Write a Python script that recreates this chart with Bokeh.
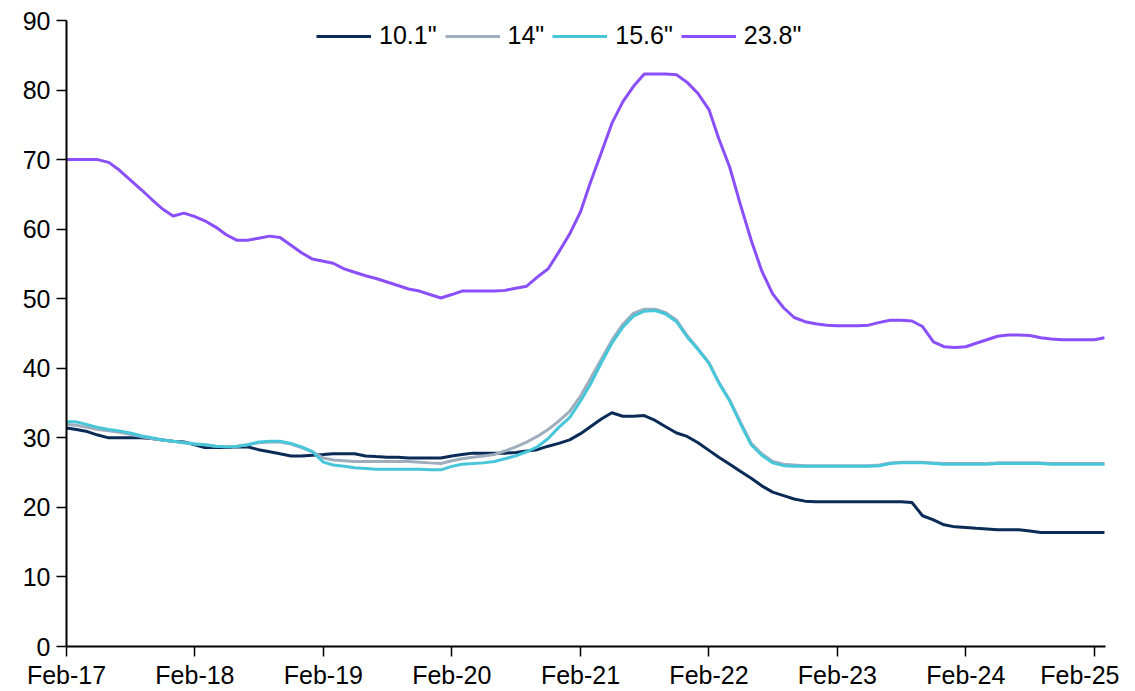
import pandas as pd
from datetime import datetime
from bokeh.plotting import figure
from bokeh.models import FixedTicker, DatetimeTickFormatter, Range1d, Legend, LegendItem
from bokeh.embed import file_html
from bokeh.resources import INLINE

dates = pd.date_range("2017-02-01", periods=98, freq="MS")
tick_dates = [datetime(y, 2, 1) for y in range(2017, 2026)]
y_ticks = [0, 10, 20, 30, 40, 50, 60, 70, 80, 90]

s_10_1 = [31.4,31.2,30.9,30.4,30.0,30.0,30.0,30.0,29.9,29.7,29.5,29.4,
          29.0,28.6,28.6,28.6,28.7,28.7,28.3,28.0,27.7,27.4,27.4,27.5,
          27.6,27.7,27.7,27.7,27.4,27.3,27.2,27.2,27.1,27.1,27.1,27.1,
          27.4,27.6,27.8,27.8,27.8,27.8,27.9,28.1,28.3,28.8,29.2,29.7,
          30.6,31.6,32.7,33.6,33.1,33.1,33.2,32.5,31.6,30.7,30.2,29.3,
          28.2,27.2,26.2,25.2,24.2,23.1,22.2,21.7,21.2,20.9,20.8,20.8,
          20.8,20.8,20.8,20.8,20.8,20.8,20.8,20.7,18.8,18.2,17.5,17.2,
          17.1,17.0,16.9,16.8,16.8,16.8,16.6,16.4,16.4,16.4,16.4,16.4,
          16.4,16.4]

s_14 = [31.9,31.8,31.5,31.2,31.0,30.8,30.5,30.2,29.9,29.7,29.5,29.3,
        29.1,29.0,28.8,28.7,28.8,29.0,29.3,29.4,29.4,29.1,28.6,28.0,
        27.1,26.8,26.7,26.6,26.6,26.6,26.6,26.6,26.6,26.5,26.4,26.3,
        26.7,27.0,27.2,27.4,27.6,28.1,28.7,29.4,30.2,31.2,32.4,33.8,
        36.0,38.5,41.3,44.0,46.3,47.9,48.5,48.5,48.0,46.9,44.7,42.8,
        40.8,38.0,35.4,32.3,29.2,27.7,26.6,26.2,26.1,26.0,26.0,26.0,
        26.0,26.0,26.0,26.0,26.1,26.4,26.5,26.5,26.5,26.4,26.3,26.3,
        26.3,26.3,26.3,26.4,26.4,26.4,26.4,26.4,26.3,26.3,26.3,26.3,
        26.3,26.3]

s_15_6 = [32.3,32.3,31.9,31.5,31.2,31.0,30.7,30.3,30.0,29.7,29.5,29.3,
          29.1,29.0,28.8,28.7,28.8,29.0,29.4,29.5,29.5,29.2,28.7,28.0,
          26.5,26.1,25.9,25.7,25.6,25.5,25.5,25.5,25.5,25.5,25.4,25.4,
          25.9,26.2,26.3,26.4,26.6,27.0,27.4,28.0,28.7,29.9,31.5,32.9,
          35.3,37.7,40.8,43.6,45.9,47.5,48.2,48.3,47.8,46.7,44.5,42.7,
          40.7,37.9,35.3,32.1,29.0,27.5,26.4,26.0,25.9,25.9,25.9,25.9,
          25.9,25.9,25.9,25.9,26.0,26.3,26.4,26.4,26.4,26.3,26.2,26.2,
          26.2,26.2,26.2,26.3,26.3,26.3,26.3,26.3,26.2,26.2,26.2,26.2,
          26.2,26.2]

s_23_8 = [70.0,70.0,70.0,70.0,69.6,68.5,67.1,65.7,64.3,62.9,61.9,62.3,
          61.8,61.2,60.3,59.2,58.4,58.4,58.7,59.0,58.8,57.7,56.6,55.7,
          55.4,55.1,54.3,53.8,53.3,52.9,52.4,51.9,51.4,51.1,50.6,50.1,
          50.6,51.1,51.1,51.1,51.1,51.2,51.5,51.8,53.1,54.3,56.7,59.3,
          62.5,66.7,71.0,75.2,78.3,80.5,82.3,82.3,82.3,82.2,81.1,79.5,
          77.2,73.0,68.9,63.6,58.4,54.0,50.7,48.7,47.3,46.7,46.4,46.2,
          46.1,46.1,46.1,46.2,46.6,46.9,46.9,46.8,46.0,43.8,43.1,43.0,
          43.1,43.6,44.1,44.6,44.8,44.8,44.7,44.4,44.2,44.1,44.1,44.1,
          44.1,44.4]

series_names = ['10.1"', '14"', '15.6"', '23.8"']
series_values = [s_10_1, s_14, s_15_6, s_23_8]
series_colors = ["#0B2B57", "#9FADBD", "#47C6DA", "#8A4FFA"]

FONT = "Liberation Sans"

p = figure(width=1119, height=691, x_axis_type="datetime",
           output_backend="svg", toolbar_location=None,
           min_border_left=66, min_border_right=14, min_border_top=20, min_border_bottom=44)
p.x_range = Range1d(datetime(2017, 2, 1), datetime(2025, 3, 4))
p.y_range = Range1d(0, 90)

items = []
for name, vals, col in zip(series_names, series_values, series_colors):
    r = p.line(dates, vals, line_color=col, line_width=3)
    items.append(LegendItem(label=name, renderers=[r]))

p.xgrid.grid_line_color = None
p.ygrid.grid_line_color = None
p.outline_line_color = None
p.background_fill_color = "white"
p.border_fill_color = "white"

p.xaxis.ticker = FixedTicker(ticks=[pd.Timestamp(d).timestamp() * 1000 for d in tick_dates])
p.xaxis.formatter = DatetimeTickFormatter(days="%b-%y", months="%b-%y", years="%b-%y")
p.yaxis.ticker = FixedTicker(ticks=y_ticks)

for ax in (p.xaxis[0], p.yaxis[0]):
    ax.axis_line_color = "black"
    ax.axis_line_width = 2
    ax.major_tick_line_color = "black"
    ax.major_tick_line_width = 1.5
    ax.major_tick_in = 0
    ax.major_tick_out = 10
    ax.minor_tick_line_color = None
    ax.major_label_text_font = FONT
    ax.major_label_text_font_size = "25px"
    ax.major_label_text_color = "black"
p.xaxis.major_label_standoff = 4
p.yaxis.major_label_standoff = 6

legend = Legend(items=items, orientation="horizontal", location=(250, 596),
                label_text_font=FONT, label_text_font_size="25px", label_text_color="black",
                glyph_width=55, glyph_height=20, label_standoff=8, spacing=8,
                padding=0, margin=0, border_line_color=None, background_fill_alpha=0)
p.add_layout(legend)

open("out.html", "w").write(file_html(p, INLINE))
